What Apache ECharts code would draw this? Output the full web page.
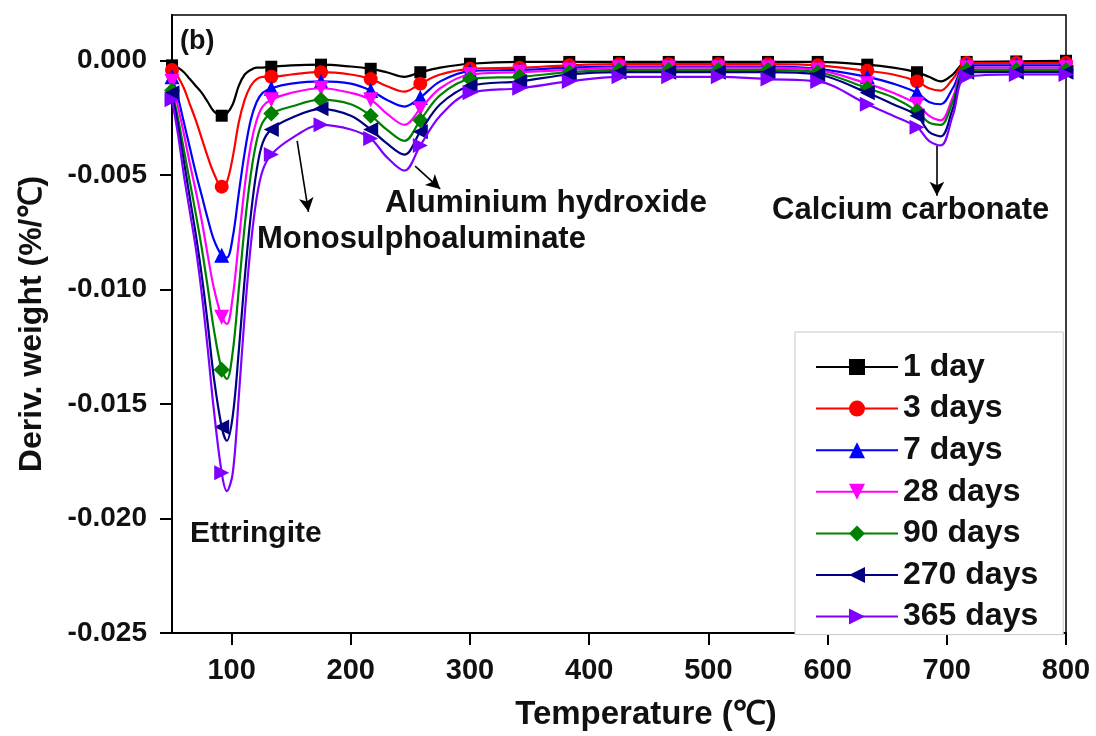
<!DOCTYPE html>
<html>
<head>
<meta charset="utf-8">
<script src="https://cdn.jsdelivr.net/npm/echarts@6/dist/echarts.min.js"></script>
<style>
html,body{margin:0;padding:0;background:#fff;}
#chart{width:1096px;height:736px;}
</style>
</head>
<body>
<div id="chart"></div>
<script>
// Temperatures (°C) of the sampled points
const temps = [50, 55, 60, 65, 70, 75, 80, 85, 91.7, 96, 101, 106, 111, 116, 121, 126, 133.3, 150, 175, 200, 216.7, 230, 245, 258.3, 275, 300, 341.7, 383.3, 425, 466.7, 508.3, 550, 591.7, 633.3, 655, 675, 685, 695, 705, 716.7, 758.3, 800];
// Temperatures where a marker is drawn
const markerTemps = [50, 91.7, 133.3, 175, 216.7, 258.3, 300, 341.7, 383.3, 425, 466.7, 508.3, 550, 591.7, 633.3, 675, 716.7, 758.3, 800];

const day1 = [-0.0002, -0.0003, -0.0005, -0.0008, -0.0011, -0.0014, -0.0018, -0.0022, -0.0024, -0.0023, -0.0019, -0.0011, -0.0006, -0.0004, -0.0003, -0.0003, -0.00026, -0.0002, -0.00017, -0.00025, -0.00035, -0.0005, -0.0007, -0.0005, -0.0003, -0.00013, -0.00005, -0.00005, -0.00005, -0.00005, -0.00005, -0.00005, -0.00005, -0.00017, -0.0003, -0.0005, -0.0007, -0.0009, -0.0006, -0.00005, -0.00003, 0.0];
const day3 = [-0.0004, -0.0007, -0.0012, -0.0019, -0.0026, -0.0034, -0.0042, -0.0049, -0.0055, -0.0053, -0.0042, -0.0027, -0.0017, -0.0011, -0.0008, -0.0007, -0.0007, -0.0006, -0.0005, -0.0006, -0.0008, -0.0011, -0.00135, -0.0010, -0.0006, -0.00035, -0.0003, -0.0002, -0.00015, -0.00015, -0.00015, -0.00015, -0.0002, -0.00044, -0.0006, -0.0009, -0.0012, -0.0013, -0.0008, -0.0001, -0.0001, -0.0001];
const day7 = [-0.0007, -0.0016, -0.0027, -0.0038, -0.0049, -0.0059, -0.0069, -0.0078, -0.0085, -0.0086, -0.0077, -0.0058, -0.0040, -0.0026, -0.0018, -0.0014, -0.0012, -0.0010, -0.0009, -0.0010, -0.0013, -0.0017, -0.0020, -0.0016, -0.0009, -0.00045, -0.0004, -0.0003, -0.00025, -0.00025, -0.00025, -0.00025, -0.00035, -0.0007, -0.0010, -0.0014, -0.0018, -0.0019, -0.0012, -0.0002, -0.0002, -0.0002];
const day28 = [-0.0009, -0.0020, -0.0032, -0.0045, -0.0057, -0.0070, -0.0085, -0.0099, -0.0112, -0.0115, -0.0103, -0.0079, -0.0055, -0.0037, -0.0026, -0.0020, -0.0017, -0.0014, -0.0012, -0.0014, -0.0017, -0.0023, -0.0028, -0.0021, -0.0012, -0.0006, -0.0005, -0.0004, -0.0003, -0.0003, -0.0003, -0.0003, -0.0004, -0.0010, -0.0014, -0.0019, -0.0024, -0.0026, -0.0016, -0.0003, -0.0003, -0.0003];
const day90 = [-0.0013, -0.0025, -0.0039, -0.0053, -0.0067, -0.0082, -0.0099, -0.0117, -0.0135, -0.0139, -0.0127, -0.0100, -0.0072, -0.0050, -0.0035, -0.0027, -0.0023, -0.0020, -0.0017, -0.0019, -0.0024, -0.0030, -0.0035, -0.0026, -0.0015, -0.0008, -0.0007, -0.0005, -0.0004, -0.0004, -0.0004, -0.0004, -0.0005, -0.0012, -0.0016, -0.0022, -0.0027, -0.0028, -0.0018, -0.0004, -0.0004, -0.0004];
const day270 = [-0.0014, -0.0028, -0.0044, -0.0060, -0.0076, -0.0094, -0.0115, -0.0138, -0.0160, -0.0166, -0.0155, -0.0127, -0.0095, -0.0068, -0.0048, -0.0036, -0.0030, -0.0025, -0.0021, -0.0024, -0.0030, -0.0036, -0.0041, -0.0031, -0.0019, -0.0011, -0.0009, -0.0006, -0.0005, -0.0005, -0.0005, -0.0005, -0.0006, -0.0014, -0.0019, -0.0024, -0.0031, -0.0033, -0.0021, -0.0005, -0.0005, -0.0005];
const day365 = [-0.0017, -0.0032, -0.0050, -0.0066, -0.0082, -0.0102, -0.0126, -0.0152, -0.0180, -0.0188, -0.0180, -0.0147, -0.0111, -0.0081, -0.0060, -0.0048, -0.0041, -0.0034, -0.0028, -0.0030, -0.0034, -0.0042, -0.0048, -0.0037, -0.0024, -0.0014, -0.0012, -0.0009, -0.0007, -0.0007, -0.0007, -0.0008, -0.0009, -0.0019, -0.0024, -0.0029, -0.0035, -0.0037, -0.0024, -0.0007, -0.0006, -0.0006];

const seriesNames = ['1 day', '3 days', '7 days', '28 days', '90 days', '270 days', '365 days'];
const xTicks = [100, 200, 300, 400, 500, 600, 700, 800];
const yTicks = [-0.025, -0.020, -0.015, -0.010, -0.005, 0.000];

// annotation arrows in data units [[T0, v0], [T1, v1]]
const arrowSegments = [
  [[155, -0.0035], [164.5, -0.0066]],
  [[254, -0.0046], [275, -0.0056]],
  [[691.7, -0.0037], [691.7, -0.0059]]
];

const allValues = [day1, day3, day7, day28, day90, day270, day365];
const colors = ['#000000', '#ff0000', '#0000ff', '#ff00ff', '#008000', '#000080', '#8000ff'];
const symbols = ['rect', 'circle', 'triangle', 'triangle', 'diamond', 'triangle', 'triangle'];
const rotates = [0, 0, 0, 180, 0, 90, -90];
const sizes = [12, 14, 15, 15, 16, 15, 15];

const FONT = '"Liberation Sans", Arial, Helvetica, sans-serif';
const markerSet = new Set(markerTemps);

const series = allValues.map((vals, k) => ({
  name: seriesNames[k],
  type: 'line',
  smooth: 0.35,
  symbol: symbols[k],
  symbolSize: sizes[k],
  symbolRotate: rotates[k],
  showSymbol: true,
  showAllSymbol: true,
  lineStyle: { color: colors[k], width: 2.2 },
  itemStyle: { color: colors[k] },
  emphasis: { disabled: true },
  z: 2 + k,
  data: temps.map((t, i) => markerSet.has(t) ? [t, vals[i]] : { value: [t, vals[i]], symbol: 'none' })
}));

series.push({
  name: 'arrows',
  type: 'line',
  data: [],
  z: 20,
  markLine: {
    silent: true,
    symbol: ['none', 'arrow'],
    symbolSize: [11, 14],
    label: { show: false },
    emphasis: { disabled: true },
    lineStyle: { color: '#000', width: 1.6, type: 'solid' },
    data: arrowSegments.map(s => [{ coord: s[0] }, { coord: s[1] }])
  }
});

const chart = echarts.init(document.getElementById('chart'), null, { renderer: 'canvas' });
const annText = (txt, x, y, size) => ({
  type: 'text', left: x, top: y - size * 0.45, z: 30,
  style: { text: txt, font: 'bold ' + size + 'px ' + FONT, fill: '#111' }
});

chart.setOption({
  animation: false,
  backgroundColor: '#fff',
  grid: { left: 172, right: 30, top: 15, bottom: 101, show: true, borderColor: '#000', borderWidth: 1.5, backgroundColor: 'transparent' },
  xAxis: {
    type: 'value', min: 50, max: 800,
    name: 'Temperature (℃)', nameLocation: 'middle', nameGap: 65,
    nameTextStyle: { fontFamily: FONT, fontWeight: 'bold', fontSize: 33, color: '#111', padding: [0, 0, 0, 54] },
    axisLine: { show: true, onZero: false, lineStyle: { color: '#000', width: 2 } },
    axisTick: { show: true, inside: false, length: 12, lineStyle: { color: '#000', width: 2 }, customValues: xTicks },
    axisLabel: { fontFamily: FONT, fontWeight: 'bold', fontSize: 29, color: '#111', margin: 23, customValues: xTicks },
    splitLine: { show: false }
  },
  yAxis: {
    type: 'value', min: -0.025, max: 0.002,
    name: 'Deriv. weight (%/℃)', nameLocation: 'middle', nameRotate: 90, nameGap: 124,
    nameTextStyle: { fontFamily: FONT, fontWeight: 'bold', fontSize: 32, color: '#111' },
    axisLine: { show: true, onZero: false, lineStyle: { color: '#000', width: 2 } },
    axisTick: { show: true, inside: false, length: 12, lineStyle: { color: '#000', width: 2 }, customValues: yTicks },
    axisLabel: { fontFamily: FONT, fontWeight: 'bold', fontSize: 28, color: '#111', margin: 25, customValues: yTicks,
      formatter: v => (Math.abs(v) < 1e-9 ? 0 : v).toFixed(3) },
    splitLine: { show: false }
  },
  legend: {
    data: seriesNames,
    orient: 'vertical',
    left: 795, top: 332,
    padding: [19, 25, 2, 20],
    itemGap: 9.6,
    itemWidth: 82, itemHeight: 20,
    lineStyle: { width: 2 },
    borderColor: '#c8c8c8', borderWidth: 1, backgroundColor: '#fff',
    selectedMode: false,
    textStyle: { fontFamily: FONT, fontWeight: 'bold', fontSize: 32, color: '#111', lineHeight: 30 }
  },
  graphic: [
    annText('(b)', 180, 40, 27),
    annText('Monosulphoaluminate', 257, 238, 31),
    annText('Aluminium hydroxide', 385, 201, 31.5),
    annText('Calcium carbonate', 772, 209, 31),
    annText('Ettringite', 190, 532, 30)
  ],
  series: series
});
</script>
</body>
</html>
